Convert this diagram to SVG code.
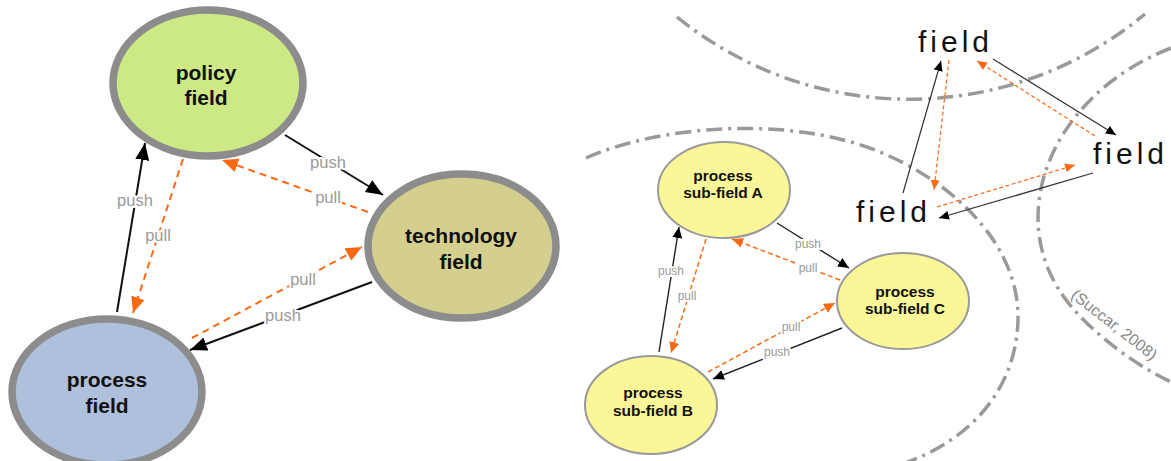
<svg xmlns="http://www.w3.org/2000/svg" width="1171" height="461" viewBox="0 0 1171 461">
<style>
.big{stroke:#8c8c8c;stroke-width:7.5}
.sub{fill:#fbf799;stroke:#999;stroke-width:2}
.bt{font-family:"Liberation Sans",Arial,sans-serif;font-weight:bold;font-size:21px;fill:#111;text-anchor:middle}
.st{font-family:"Liberation Sans",Arial,sans-serif;font-weight:bold;font-size:15.5px;fill:#111;text-anchor:middle}
.ft{font-family:"Liberation Sans",Arial,sans-serif;font-size:30px;fill:#111;letter-spacing:4px}
.lbl{font-family:"Liberation Sans",Arial,sans-serif;fill:#9a9a9a;text-anchor:middle;stroke:#fff;stroke-width:4px;paint-order:stroke;stroke-linejoin:round}
.l1{font-size:16.5px}
.l2{font-size:12px}
.arc{fill:none;stroke:#9a9a9a;stroke-width:3.5;stroke-dasharray:16 6 3 6}
.kb{stroke:#111;stroke-width:2;fill:none}
.ob{stroke:#fa6a14;stroke-width:2;stroke-dasharray:7 5;fill:none}
.ks{stroke:#222;stroke-width:1.4;fill:none}
.os{stroke:#fa6a14;stroke-width:1.5;stroke-dasharray:5 3;fill:none}
.kf{stroke:#333;stroke-width:1.2;fill:none}
.of{stroke:#fa6a14;stroke-width:1.2;stroke-dasharray:4 2.5;fill:none}
</style>
<defs>
<marker id="hk1" markerUnits="userSpaceOnUse" markerWidth="18" markerHeight="16" refX="17" refY="7" orient="auto"><path d="M0,0 L17,7 L0,14 z" fill="#000"/></marker>
<marker id="ho1" markerUnits="userSpaceOnUse" markerWidth="18" markerHeight="16" refX="16" refY="7" orient="auto"><path d="M0,0 L16,7 L0,14 z" fill="#fa6a14"/></marker>
<marker id="hk2" markerUnits="userSpaceOnUse" markerWidth="12" markerHeight="12" refX="11" refY="5" orient="auto"><path d="M0,0 L11,5 L0,10 z" fill="#000"/></marker>
<marker id="ho2" markerUnits="userSpaceOnUse" markerWidth="12" markerHeight="12" refX="11" refY="5" orient="auto"><path d="M0,0 L11,5 L0,10 z" fill="#fa6a14"/></marker>
<marker id="hk3" markerUnits="userSpaceOnUse" markerWidth="11" markerHeight="10" refX="10" refY="4.5" orient="auto"><path d="M0,0 L10,4.5 L0,9 z" fill="#000"/></marker>
<marker id="ho3" markerUnits="userSpaceOnUse" markerWidth="11" markerHeight="10" refX="10" refY="4.5" orient="auto"><path d="M0,0 L10,4.5 L0,9 z" fill="#fa6a14"/></marker>
</defs>
<rect width="1171" height="461" fill="#fff"/>

<g id="boundaries">
<path class="arc" d="M 677 17 A 369 369 0 0 0 1145 14"/>
<path class="arc" d="M 586 158 C 660 125, 790 115, 880 152 C 960 185, 1020 250, 1018 320 C 1016 390, 970 440, 905 463"/>
<path class="arc" d="M 1171 48 C 1050 95, 1000 220, 1070 305 C 1095 335, 1135 365, 1171 382"/>
<text x="1114" y="330" transform="rotate(38 1114 325)" font-family="'Liberation Sans',Arial,sans-serif" font-size="16" fill="#888" text-anchor="middle">(Succar, 2008)</text>
</g>

<g id="policy-field">
<ellipse class="big" cx="208" cy="83" rx="95" ry="73" fill="#cde986"/>
<text class="bt" x="206" y="80">policy</text>
<text class="bt" x="206" y="105">field</text>
</g>
<g id="technology-field">
<ellipse class="big" cx="462" cy="246" rx="94" ry="72" fill="#d4cf8e"/>
<text class="bt" x="461" y="243">technology</text>
<text class="bt" x="461" y="269">field</text>
</g>
<g id="process-field">
<ellipse class="big" cx="107" cy="392" rx="95" ry="73" fill="#aec0dc"/>
<text class="bt" x="107" y="387">process</text>
<text class="bt" x="107" y="413">field</text>
</g>

<g id="sub-field-a">
<ellipse class="sub" cx="724" cy="190" rx="66" ry="48"/>
<text class="st" x="723" y="181">process</text>
<text class="st" x="723" y="198">sub-field A</text>
</g>
<g id="sub-field-c">
<ellipse class="sub" cx="903" cy="301" rx="66" ry="48"/>
<text class="st" x="905" y="297">process</text>
<text class="st" x="905" y="314">sub-field C</text>
</g>
<g id="sub-field-b">
<ellipse class="sub" cx="651" cy="405" rx="66" ry="49"/>
<text class="st" x="653" y="398">process</text>
<text class="st" x="653" y="416">sub-field B</text>
</g>

<g id="field-top"><text class="ft" x="918" y="52">field</text></g>
<g id="field-right"><text class="ft" x="1093" y="164">field</text></g>
<g id="field-left"><text class="ft" x="856" y="222">field</text></g>

<g id="connectors">
<line class="kb" x1="117" y1="312" x2="145" y2="143" marker-end="url(#hk1)"/>
<line class="ob" x1="183" y1="159" x2="133" y2="313" marker-end="url(#ho1)"/>
<line class="kb" x1="285" y1="135" x2="383" y2="195" marker-end="url(#hk1)"/>
<line class="ob" x1="368" y1="212" x2="222" y2="160" marker-end="url(#ho1)"/>
<line class="ob" x1="192" y1="338" x2="362" y2="247" marker-end="url(#ho1)"/>
<line class="kb" x1="372" y1="282" x2="190" y2="350" marker-end="url(#hk1)"/>
<text class="lbl l1" x="135" y="206">push</text>
<text class="lbl l1" x="158" y="241">pull</text>
<text class="lbl l1" x="328" y="168">push</text>
<text class="lbl l1" x="328" y="203">pull</text>
<text class="lbl l1" x="303" y="285">pull</text>
<text class="lbl l1" x="283" y="321">push</text>

<line class="ks" x1="659" y1="352" x2="679" y2="227" marker-end="url(#hk2)"/>
<line class="os" x1="706" y1="239" x2="671" y2="353" marker-end="url(#ho2)"/>
<line class="ks" x1="777" y1="223" x2="849" y2="268" marker-end="url(#hk2)"/>
<line class="os" x1="840" y1="280" x2="732" y2="239" marker-end="url(#ho2)"/>
<line class="os" x1="708" y1="372" x2="835" y2="303" marker-end="url(#ho2)"/>
<line class="ks" x1="842" y1="328" x2="713" y2="379" marker-end="url(#hk2)"/>
<text class="lbl l2" x="671" y="275">push</text>
<text class="lbl l2" x="687" y="300">pull</text>
<text class="lbl l2" x="808" y="248">push</text>
<text class="lbl l2" x="808" y="272">pull</text>
<text class="lbl l2" x="791" y="331">pull</text>
<text class="lbl l2" x="777" y="356">push</text>

<line class="kf" x1="903" y1="193" x2="941" y2="61" marker-end="url(#hk3)"/>
<line class="of" x1="949" y1="60" x2="934" y2="190" marker-end="url(#ho3)"/>
<line class="kf" x1="993" y1="59" x2="1116" y2="135" marker-end="url(#hk3)"/>
<line class="of" x1="1095" y1="136" x2="977" y2="61" marker-end="url(#ho3)"/>
<line class="of" x1="937" y1="207" x2="1075" y2="165" marker-end="url(#ho3)"/>
<line class="kf" x1="1093" y1="173" x2="939" y2="218" marker-end="url(#hk3)"/>
</g>
</svg>
